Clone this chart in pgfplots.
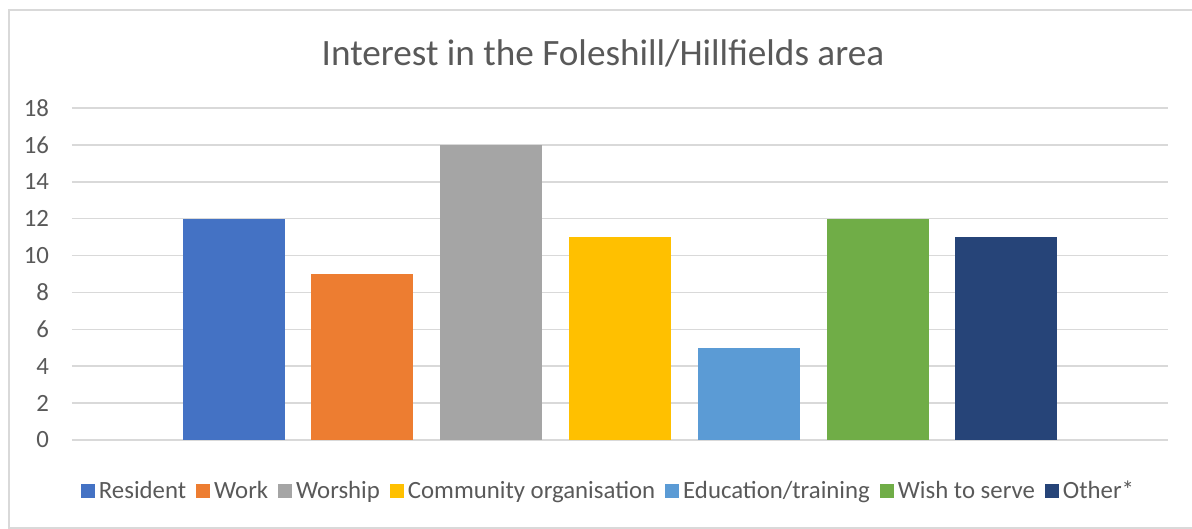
\documentclass[border=0pt]{standalone}
\usepackage{pgfplots}
\pgfplotsset{compat=1.18}
\usepackage{fontspec}
\setmainfont{Carlito}

\definecolor{txt}{HTML}{595959}
\definecolor{gridc}{HTML}{D9D9D9}
\definecolor{cRes}{HTML}{4472C4}
\definecolor{cWork}{HTML}{ED7D31}
\definecolor{cWor}{HTML}{A5A5A5}
\definecolor{cCom}{HTML}{FFC000}
\definecolor{cEdu}{HTML}{5B9BD5}
\definecolor{cWish}{HTML}{70AD47}
\definecolor{cOth}{HTML}{264478}

\pgfplotsset{mybar/.style={ybar, bar width=0.792, bar shift=0pt, draw=none, fill=#1}}

\begin{document}
\begin{tikzpicture}
\useasboundingbox (-36pt,-44.5pt) rectangle (560pt,220pt);
\draw[gridc, line width=0.6pt] (566pt,215pt) -- (-31.5pt,215pt) -- (-31.5pt,-44pt) -- (566pt,-44pt);
\begin{axis}[
    scale only axis,
    width=548pt, height=166pt,
    xmin=-4.254, xmax=4.254,
    ymin=0, ymax=18,
    ytick={0,2,...,18},
    xtick=\empty,
    axis line style={draw=none},
    major tick length=0pt,
    ymajorgrids,
    grid style={gridc, line width=0.75pt},
    ticklabel style={font=\fontsize{12.4}{15}\selectfont, text=txt},
    yticklabel style={xshift=-8pt},
    /pgf/number format/assume math mode=true,
    legend columns=7,
    legend style={draw=none, fill=none, at={(0.4904,-0.1536)}, anchor=center,
        font=\fontsize{12.4}{15}\selectfont, text=txt,
        /tikz/every even column/.append style={column sep=3pt}},
    legend image code/.code={\fill[#1] (0pt,-3.5pt) rectangle (7pt,3.5pt);},
]
\addplot[mybar=cRes] coordinates {(-3,12)};
\addlegendentry{Resident}
\addplot[mybar=cWork] coordinates {(-2,9)};
\addlegendentry{Work}
\addplot[mybar=cWor] coordinates {(-1,16)};
\addlegendentry{Worship}
\addplot[mybar=cCom] coordinates {(0,11)};
\addlegendentry{Community organisation}
\addplot[mybar=cEdu] coordinates {(1,5)};
\addlegendentry{Education/training}
\addplot[mybar=cWish] coordinates {(2,12)};
\addlegendentry{Wish to serve}
\addplot[mybar=cOth] coordinates {(3,11)};
\addlegendentry{Other*}
\end{axis}
\node[font=\fontsize{18.6}{22}\selectfont, text=txt] at (265.5pt,193.5pt) {Interest in the Foleshill/Hillfields area};
\end{tikzpicture}
\end{document}
